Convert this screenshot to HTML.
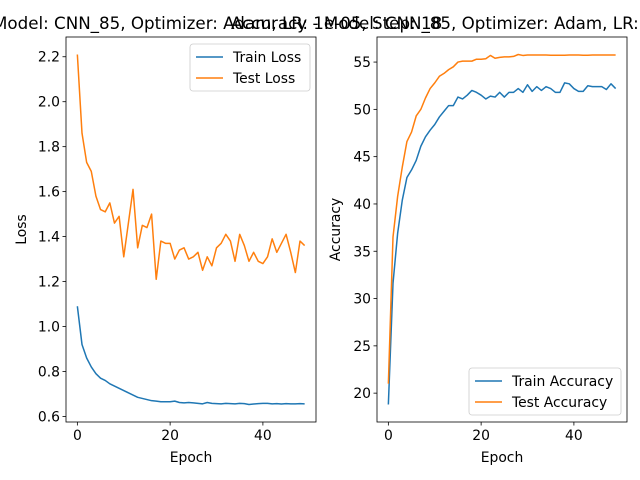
<!DOCTYPE html>
<html><head><meta charset="utf-8"><style>body{margin:0;background:#fff}svg{display:block;font-family:"DejaVu Sans","Liberation Sans",sans-serif}</style></head>
<body>
<svg id="c" width="640" height="480" xmlns="http://www.w3.org/2000/svg"></svg>
<script>
const epochs = Array.from({length:50},(_,i)=>i);
const trainLoss = [1.09,0.92,0.86,0.82,0.79,0.77,0.76,0.745,0.735,0.725,0.715,0.705,0.695,0.685,0.68,0.675,0.67,0.668,0.665,0.665,0.665,0.668,0.662,0.66,0.662,0.66,0.658,0.656,0.662,0.658,0.657,0.656,0.658,0.657,0.656,0.658,0.657,0.653,0.655,0.657,0.658,0.658,0.656,0.657,0.655,0.657,0.656,0.656,0.657,0.656];
const testLoss = [2.21,1.86,1.73,1.69,1.58,1.52,1.51,1.55,1.46,1.49,1.31,1.46,1.61,1.35,1.45,1.44,1.50,1.21,1.38,1.37,1.37,1.30,1.34,1.35,1.30,1.31,1.33,1.25,1.31,1.27,1.35,1.37,1.41,1.38,1.29,1.41,1.36,1.29,1.33,1.29,1.28,1.31,1.39,1.33,1.37,1.41,1.33,1.24,1.38,1.36];
const trainAcc = [18.8,31.6,36.9,40.4,42.8,43.6,44.6,46.1,47.1,47.8,48.4,49.2,49.8,50.4,50.4,51.3,51.1,51.5,52.0,51.8,51.5,51.1,51.4,51.3,51.8,51.3,51.8,51.8,52.2,51.8,52.6,51.9,52.4,52.0,52.4,52.2,51.8,51.8,52.8,52.7,52.2,51.9,51.9,52.5,52.4,52.4,52.4,52.1,52.7,52.2];
const testAcc = [21.0,36.5,40.8,43.9,46.6,47.6,49.3,50.0,51.2,52.2,52.8,53.5,53.8,54.2,54.5,55.0,55.1,55.1,55.1,55.3,55.3,55.35,55.7,55.4,55.5,55.55,55.55,55.6,55.8,55.7,55.75,55.75,55.75,55.75,55.75,55.72,55.72,55.72,55.72,55.75,55.75,55.75,55.72,55.72,55.75,55.75,55.75,55.75,55.75,55.75];
const lossTicks = [0.6,0.8,1.0,1.2,1.4,1.6,1.8,2.0,2.2];
const accTicks = [20,25,30,35,40,45,50,55];
const xTicks = [0,20,40];

const svg=document.getElementById('c');const NS='http://www.w3.org/2000/svg';
function mk(t,a,p){const e=document.createElementNS(NS,t);for(const k in a)e.setAttribute(k,a[k]);(p||svg).appendChild(e);return e;}
function panel(x0,x1,y0,y1,series,yticks,ylabel,title,legendPos,name){
  const g=mk('g',{});
  
  
  let mn=Infinity,mx=-Infinity;series.forEach(s=>s.d.forEach(v=>{mn=Math.min(mn,v);mx=Math.max(mx,v);}));
  const r=mx-mn;mn-=r*0.05;mx+=r*0.05;
  const xs=v=>x0+(v+2.45)/53.9*(x1-x0);
  const ys=v=>y1-(v-mn)/(mx-mn)*(y1-y0);
  series.forEach(s=>{
    const p=mk('polyline',{points:s.d.map((v,i)=>xs(epochs[i]).toFixed(2)+','+ys(v).toFixed(2)).join(' '),fill:'none',stroke:s.c,'stroke-width':1.5,'stroke-linejoin':'round'},g);
    
    
  });
  mk('rect',{x:x0,y:y0,width:x1-x0,height:y1-y0,fill:'none',stroke:'#000','stroke-width':0.8},g);
  xTicks.forEach(t=>{const X=xs(t);mk('line',{x1:X,x2:X,y1:y1,y2:y1+3.5,stroke:'#000','stroke-width':0.8},g);
    const tx=mk('text',{x:X,y:y1+18,'font-size':13.9,'text-anchor':'middle'},g);tx.textContent=t;
    
    });
  yticks.forEach(t=>{const Y=ys(t);mk('line',{x1:x0-3.5,x2:x0,y1:Y,y2:Y,stroke:'#000','stroke-width':0.8},g);
    const tx=mk('text',{x:x0-6,y:Y+5,'font-size':13.9,'text-anchor':'end'},g);tx.textContent=(ylabel==='Loss'?t.toFixed(1):t);
    
    });
  const xl=mk('text',{x:(x0+x1)/2,y:y1+40,'font-size':13.9,'text-anchor':'middle'},g);xl.textContent='Epoch';
  
  
  const yl=mk('text',{x:0,y:0,'font-size':13.9,'text-anchor':'middle',transform:`translate(${x0-(ylabel==='Loss'?40:37)},${(y0+y1)/2}) rotate(-90)`},g);yl.textContent=ylabel;
  
  
  const ti=mk('text',{x:(x0+x1)/2,y:y0-8,'font-size':16.7,'text-anchor':'middle'},g);ti.textContent=title;
  
  
  const lw=ylabel==='Loss'?120:152;const lx=x1-lw-6;const ly=legendPos==='top'?y0+7:y1-54;
  const lg=mk('g',{},g);
  
  
  mk('rect',{x:lx,y:ly,width:lw,height:47,rx:3,fill:'#fff','fill-opacity':0.8,stroke:'#ccc','stroke-width':0.8},lg);
  series.forEach((s,i)=>{const yy=ly+13+i*21;mk('line',{x1:lx+6,x2:lx+33,y1:yy,y2:yy,stroke:s.c,'stroke-width':1.5},lg);
    const t=mk('text',{x:lx+43,y:yy+5,'font-size':13.9},lg);t.textContent=s.l;
    
    });
}
panel(66,316,37,422,[{d:trainLoss,c:'#1f77b4',l:'Train Loss',n:'train-loss-line'},{d:testLoss,c:'#ff7f0e',l:'Test Loss',n:'test-loss-line'}],lossTicks,'Loss','Loss - Model: CNN_85, Optimizer: Adam, LR: 1e-05, Step: 18','top','loss-panel');
panel(377,627,37,422,[{d:trainAcc,c:'#1f77b4',l:'Train Accuracy',n:'train-accuracy-line'},{d:testAcc,c:'#ff7f0e',l:'Test Accuracy',n:'test-accuracy-line'}],accTicks,'Accuracy','Accuracy - Model: CNN_85, Optimizer: Adam, LR: 1e-05, Step: 18','bottom','accuracy-panel');
</script>
</body></html>
